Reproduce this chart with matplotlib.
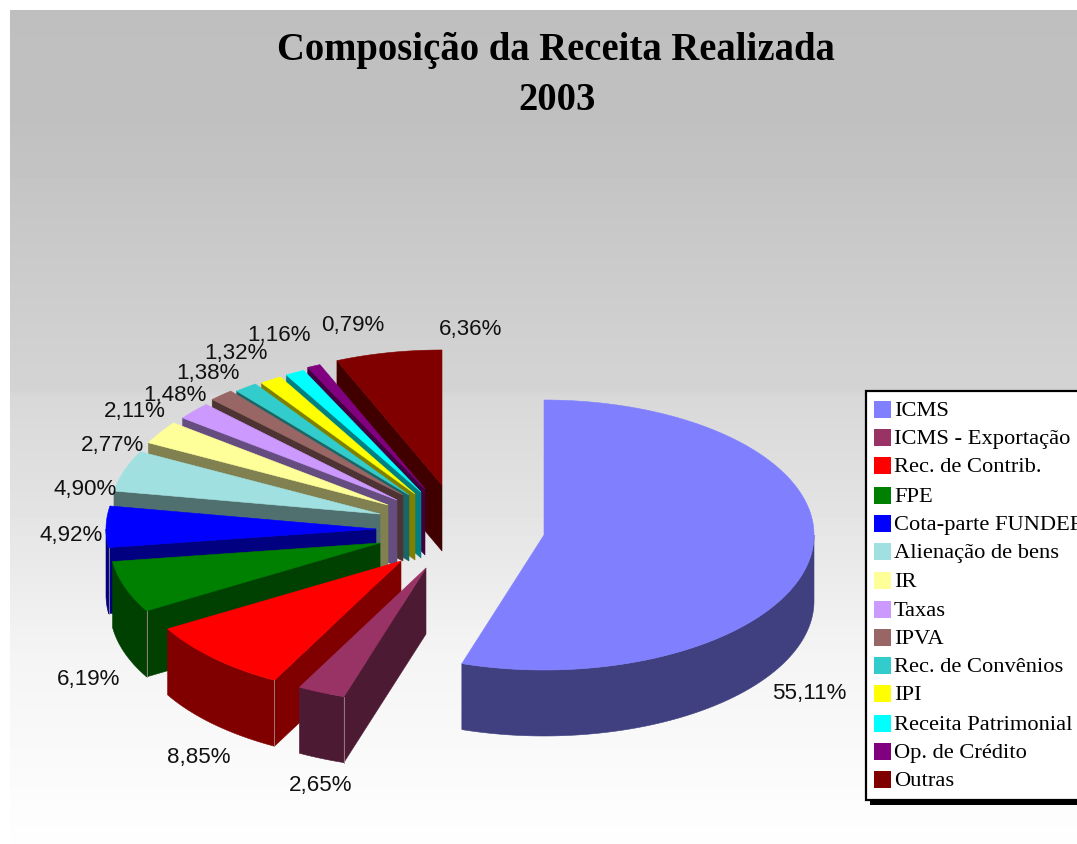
"""Composicao da Receita Realizada 2003 - exploded 3D style pie, drawn as polygons."""
import matplotlib
matplotlib.use("Agg")
import matplotlib.pyplot as plt
import numpy as np
from matplotlib.patches import Polygon, Rectangle

categories = ["ICMS", "ICMS - Exportação", "Rec. de Contrib.", "FPE", "Cota-parte FUNDEF",
              "Alienação de bens", "IR", "Taxas", "IPVA", "Rec. de Convênios", "IPI",
              "Receita Patrimonial", "Op. de Crédito", "Outras"]
values = [55.11, 2.65, 8.85, 6.19, 4.92, 4.90, 2.77, 2.11, 1.48, 1.38, 1.32, 1.16, 0.79, 6.36]
top_colors = ["#8080FF", "#993366", "#FF0000", "#008000", "#0000FF", "#A0E0E0", "#FFFF99",
              "#CC99FF", "#996666", "#33CCCC", "#FFFF00", "#00FFFF", "#800080", "#800000"]
side_colors = ["#404080", "#4D1A33", "#800000", "#004000", "#000080", "#507070", "#808050",
               "#664D80", "#4D3333", "#1A6666", "#808000", "#008080", "#400040", "#400000"]

# where each slice's tip sits after the explosion, and its label centre (pixels)
apex = [(544, 535), (426, 568), (401, 561), (380, 543), (376, 529), (380, 514), (388, 505),
        (397, 500), (403, 495), (409, 495), (415, 494), (421, 492), (425, 489), (442, 485)]
label_pos = [(809, 693), (321, 785), (199, 757), (89, 679), (71, 536), (85, 490), (113, 445),
             (135, 412), (175, 396), (208, 373), (236, 354), (279, 335), (353, 326), (471, 329)]
legend_y = [409, 437, 465, 495, 523, 551, 580, 609, 637, 665, 693, 723, 751, 779]

RX, RY, DEPTH = 270, 135, 66


def arc(cx, cy, a0, a1):
    t = np.radians(np.linspace(a0, a1, max(int(abs(a1 - a0)) * 2, 2)))
    return np.column_stack([cx + RX * np.sin(t), cy - RY * np.cos(t)])


def draw_slice(ax, cx, cy, a0, a1, top, side):
    start = arc(cx, cy, a0, a0)[0]
    wall = [(cx, cy), start, (start[0], start[1] + DEPTH), (cx, cy + DEPTH)]
    ax.add_patch(Polygon(wall, fc=side, ec=side, lw=0.4))
    lo, hi = max(a0, 90), min(a1, 270)
    if hi > lo:
        pts = arc(cx, cy, lo, hi)
        low = pts[::-1] + [0, DEPTH]
        ax.add_patch(Polygon(np.vstack([pts, low]), fc=side, ec=side, lw=0.4))
    if 90 < a0 < 270:
        ax.plot([start[0]] * 2, [start[1], start[1] + DEPTH], color="#a08a90", lw=0.6)
    ax.add_patch(Polygon(np.vstack([[(cx, cy)], arc(cx, cy, a0, a1)]), fc=top, ec=top, lw=0.4))


def main():
    fig = plt.figure(figsize=(10.77, 8.44), dpi=100)
    ax = fig.add_axes([0, 0, 1, 1])
    ax.axis("off")

    # background: flat grey at the top, fading to near white, with the small step around y=393
    rows = np.arange(10, 845)
    grad = np.interp(rows, [10, 120, 390, 396, 500, 650, 845],
                     [191, 192, 212, 216, 226, 244, 254]).reshape(-1, 1)
    ax.imshow(grad, cmap="gray", vmin=0, vmax=255, extent=(10, 1077, 845, 10), aspect="auto",
              interpolation="nearest", zorder=0)
    ax.set_xlim(0, 1077)
    ax.set_ylim(844, 0)

    edges = np.concatenate([[0], np.cumsum(values)]) / sum(values) * 360
    edges[1] -= 0.7  # the source's first boundary lands a little short of the true angle
    for i in reversed(range(len(values))):
        draw_slice(ax, apex[i][0], apex[i][1], edges[i], edges[i + 1], top_colors[i], side_colors[i])

    for v, (x, y) in zip(values, label_pos):
        ax.text(x, y, f"{v:.2f}%".replace(".", ","), ha="center", va="center",
                family="Liberation Sans", fontsize=16.1, color="#111111")

    ax.text(556, 60, "Composição da Receita Realizada", ha="center", va="baseline",
            family="Liberation Serif", weight="bold", fontsize=27.8, color="black")
    ax.text(557, 110, "2003", ha="center", va="baseline",
            family="Liberation Serif", weight="bold", fontsize=27.8, color="black")

    # legend box runs off the right edge of the picture
    ax.add_patch(Rectangle((870, 395), 240, 410, fc="black", ec="none"))
    ax.add_patch(Rectangle((866, 391), 240, 409, fc="white", ec="black", lw=1.6))
    for name, color, y in zip(categories, top_colors, legend_y):
        ax.add_patch(Rectangle((874, y - 8.5), 17, 17, fc=color, ec="none"))
        ax.text(894, y, name, ha="left", va="center_baseline", family="Liberation Serif",
                fontsize=16.2, color="black")

    fig.savefig("out.png", dpi=100, facecolor="white")


if __name__ == "__main__":
    main()
